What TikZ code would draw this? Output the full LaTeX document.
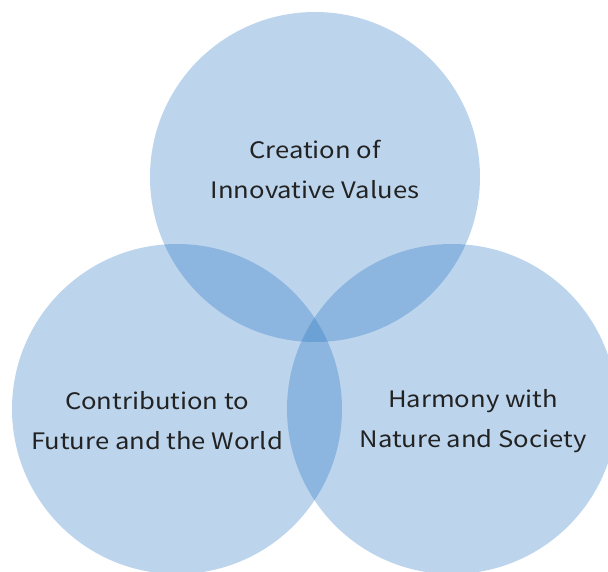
\documentclass[tikz,border=0pt]{standalone}
\usepackage{fontspec}
\setmainfont{Noto Sans CJK JP}[FakeStretch=1.13]
\usetikzlibrary{positioning}

\definecolor{vennblue}{RGB}{32,112,192}
\definecolor{venntext}{RGB}{34,34,34}

\begin{document}
\begin{tikzpicture}[
    x=0.75pt, y=-0.75pt,
    ring/.style={circle, fill=vennblue, fill opacity=0.3, minimum size=247.5pt, inner sep=0pt},
    caption/.style={align=center, text=venntext, font=\fontsize{17}{30}\selectfont, inner sep=0pt}
]
\useasboundingbox (0,0) rectangle (608,572);
% three overlapping rings, text placed a bit off the centres
\node[ring] (C1) at (315,177) {};
\node[ring] (C2) at (177,409) {};
\node[ring] (C3) at (452,409) {};

\node[caption] (T1) at (315,169) {Creation of\\Innovative Values};
\node[caption] (T2) at (157,421) {Contribution to\\Future and the World};
\node[caption] (T3) at (473,421) {Harmony with\\Nature and Society};
\end{tikzpicture}
\end{document}
